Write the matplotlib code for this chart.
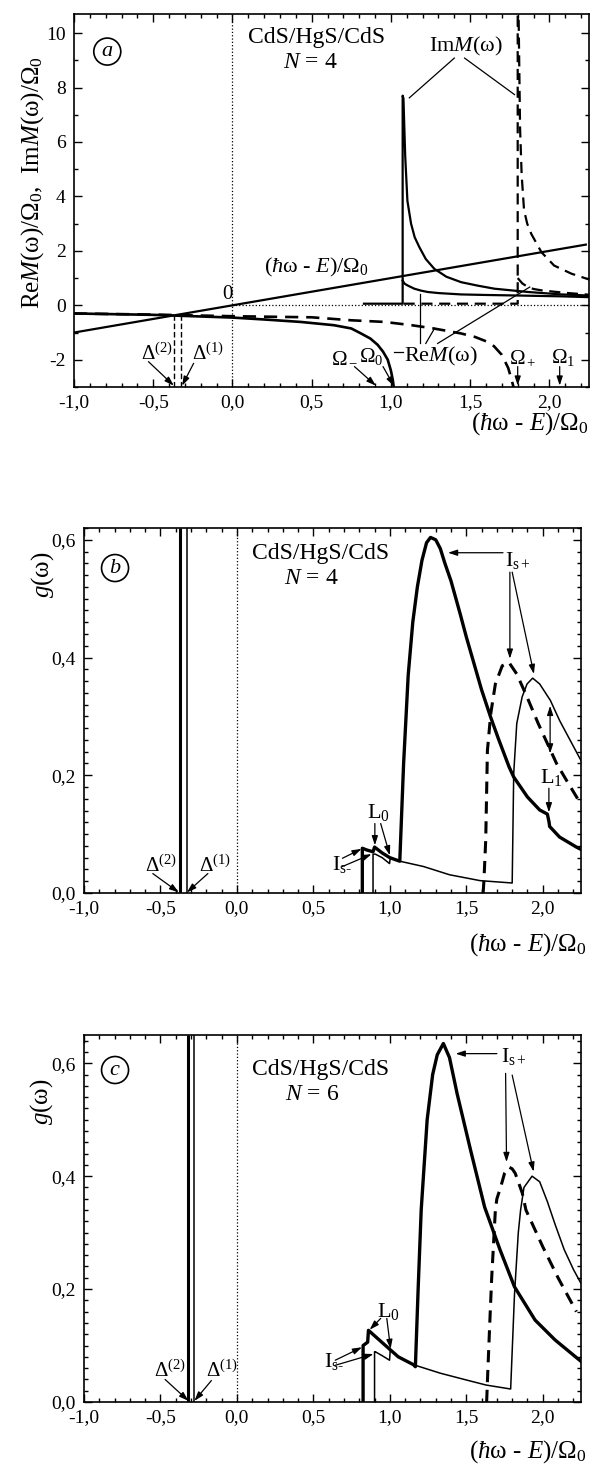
import matplotlib
matplotlib.use('Agg')
import matplotlib.pyplot as plt
from matplotlib.ticker import MultipleLocator, FuncFormatter

plt.rcParams['font.family'] = ['Liberation Serif', 'DejaVu Serif']
plt.rcParams['mathtext.fontset'] = 'custom'
plt.rcParams['mathtext.rm'] = 'Liberation Serif'
plt.rcParams['mathtext.it'] = 'Liberation Serif:italic'
plt.rcParams['mathtext.bf'] = 'Liberation Serif:bold'

# ------------------------------------------------------------------ data
# panel (a): N = 4
line_x = [-1.0, 2.23]
line_y = [-1.0, 2.23]

rem_solid_left_x = [-1.0, -0.5, 0.0, 0.2, 0.43, 0.64, 0.75, 0.81, 0.87, 0.916, 0.95, 0.98, 1.0, 1.012, 1.02]
rem_solid_left_y = [-0.30, -0.35, -0.45, -0.52, -0.61, -0.73, -0.85, -1.03, -1.22, -1.45, -1.7, -2.0, -2.4, -2.75, -3.1]

rem_dash_left_x = [-1.0, -0.5, 0.0, 0.5, 0.75, 0.96, 1.13, 1.27, 1.44, 1.53, 1.6, 1.65, 1.70, 1.74, 1.76, 1.778]
rem_dash_left_y = [-0.30, -0.34, -0.40, -0.44, -0.55, -0.61, -0.73, -0.85, -1.03, -1.16, -1.32, -1.5, -1.82, -2.3, -2.7, -3.1]

imm_solid_x = [0.83, 1.074, 1.074, 1.079, 1.09, 1.104, 1.127, 1.15, 1.18, 1.22, 1.274, 1.35, 1.443, 1.55, 1.654, 1.865, 2.076, 2.25]
imm_solid_y = [0.06, 0.06, 7.7, 7.6, 5.5, 3.84, 3.0, 2.5, 2.13, 1.7, 1.34, 1.05, 0.85, 0.72, 0.61, 0.49, 0.40, 0.36]

rem_solid_right_x = [1.074, 1.085, 1.105, 1.148, 1.19, 1.232, 1.3, 1.443, 1.6, 1.80, 2.076, 2.25]
rem_solid_right_y = [0.91, 0.80, 0.73, 0.61, 0.54, 0.49, 0.45, 0.40, 0.38, 0.36, 0.33, 0.30]

imm_dash_x = [1.08, 1.80, 1.80, 1.805, 1.815, 1.825, 1.84, 1.86, 1.886, 1.95, 2.03, 2.14, 2.25]
imm_dash_y = [0.06, 0.06, 11.0, 11.0, 6.5, 4.8, 3.5, 3.0, 2.62, 1.95, 1.46, 1.16, 0.95]

rem_dash_right_x = [1.80, 1.83, 1.865, 1.9, 1.95, 2.03, 2.12, 2.25]
rem_dash_right_y = [1.0, 0.8, 0.67, 0.60, 0.55, 0.50, 0.45, 0.39]

delta_a = [-0.37, -0.325]          # Delta(2), Delta(1) for N = 4

# panel (b): g(omega), N = 4
gb_thick_x = [0.82, 0.82, 0.85, 0.89, 0.90, 0.95, 1.0, 1.065, 1.09, 1.12, 1.15, 1.18, 1.21, 1.24, 1.266,
              1.30, 1.33, 1.36, 1.40, 1.46, 1.50, 1.55, 1.60, 1.66, 1.71, 1.78, 1.81, 1.90, 1.98,
              2.03, 2.04, 2.045, 2.11, 2.22, 2.25]
gb_thick_y = [0.0, 0.076, 0.073, 0.070, 0.078, 0.068, 0.060, 0.054, 0.22, 0.37, 0.46, 0.52, 0.565, 0.595, 0.604,
              0.600, 0.585, 0.56, 0.53, 0.474, 0.435, 0.39, 0.345, 0.298, 0.262, 0.214, 0.197, 0.163, 0.141,
              0.134, 0.122, 0.113, 0.095, 0.078, 0.074]

gb_thin_x = [0.89, 0.89, 0.905, 0.95, 0.998, 1.003, 1.065, 1.22, 1.39, 1.59, 1.80, 1.81, 1.83, 1.865,
             1.897, 1.934, 1.98, 2.05, 2.11, 2.18, 2.25]
gb_thin_y = [0.0, 0.066, 0.066, 0.060, 0.050, 0.060, 0.054, 0.045, 0.031, 0.021, 0.017, 0.203, 0.288, 0.333,
             0.355, 0.365, 0.355, 0.327, 0.293, 0.259, 0.225]

gb_dash_x = [1.61, 1.615, 1.627, 1.638, 1.66, 1.69, 1.735, 1.778, 1.83, 1.897, 1.97, 2.03, 2.09, 2.156, 2.24]
gb_dash_y = [0.0, 0.02, 0.09, 0.242, 0.305, 0.355, 0.386, 0.392, 0.372, 0.333, 0.288, 0.254, 0.22, 0.191, 0.155]

delta_b = [-0.37, -0.325]

# panel (c): g(omega), N = 6
gc_thick_x = [0.825, 0.825, 0.855, 0.86, 0.955, 1.055, 1.155, 1.167, 1.185, 1.205, 1.244, 1.28, 1.31, 1.35,
              1.39, 1.44, 1.528, 1.62, 1.72, 1.815, 1.95, 2.08, 2.25]
gc_thick_y = [0.0, 0.10, 0.106, 0.127, 0.104, 0.080, 0.066, 0.0625, 0.20, 0.34, 0.50, 0.58, 0.615, 0.635,
              0.61, 0.546, 0.446, 0.345, 0.27, 0.204, 0.145, 0.11, 0.072]

gc_thin_x = [0.90, 0.90, 0.905, 0.95, 0.998, 1.003, 1.055, 1.155, 1.33, 1.50, 1.63, 1.79, 1.815, 1.84,
             1.855, 1.877, 1.93, 1.98, 2.03, 2.08, 2.14, 2.20, 2.25]
gc_thin_y = [0.0, 0.089, 0.089, 0.082, 0.074, 0.093, 0.080, 0.066, 0.051, 0.039, 0.030, 0.023, 0.19, 0.30,
             0.34, 0.38, 0.40, 0.39, 0.355, 0.315, 0.27, 0.235, 0.21]

gc_dash_x = [1.633, 1.64, 1.655, 1.666, 1.69, 1.70, 1.724, 1.75, 1.779, 1.80, 1.82, 1.866, 1.89, 2.0, 2.10, 2.22]
gc_dash_y = [0.0, 0.05, 0.15, 0.22, 0.34, 0.36, 0.38, 0.405, 0.416, 0.413, 0.405, 0.37, 0.34, 0.275, 0.22, 0.16]

delta_c = [-0.317, -0.278]

x_ticks_major = 0.5
x_ticks_minor = 0.1

# ------------------------------------------------------------------ figure
W, H = 601, 1468
fig = plt.figure(figsize=(W / 100, H / 100), dpi=100)


def ax_rect(l, t, r, b):
    return [l / W, 1 - b / H, (r - l) / W, (b - t) / H]


def fx(px):
    return px / W


def fy(py):
    return 1 - py / H


def comma(v, pos):
    s = f"{v:.1f}".replace('.', ',')
    if s == '-0,0':
        s = '0,0'
    return s


def style_axes(ax, ymaj, ymin, yfmt):
    ax.set_xlim(-1.0, 2.25)
    ax.xaxis.set_major_locator(MultipleLocator(x_ticks_major))
    ax.xaxis.set_minor_locator(MultipleLocator(x_ticks_minor))
    ax.yaxis.set_major_locator(MultipleLocator(ymaj))
    ax.yaxis.set_minor_locator(MultipleLocator(ymin))
    ax.xaxis.set_major_formatter(FuncFormatter(comma))
    ax.yaxis.set_major_formatter(FuncFormatter(yfmt))
    ax.tick_params(which='both', direction='in', top=True, right=True, width=1.0,
                   labelsize=14)
    ax.tick_params(which='major', length=6)
    ax.tick_params(which='minor', length=3)
    ax.tick_params(axis='y', pad=6)
    ax.tick_params(axis='x', pad=5)
    for s in ax.spines.values():
        s.set_linewidth(1.2)


def arrow(ax, frm, to, style='-|>'):
    ax.annotate('', xy=to, xytext=frm,
                arrowprops=dict(arrowstyle=style + ',head_length=0.55,head_width=0.18',
                                lw=0.9, color='k', shrinkA=0, shrinkB=0, mutation_scale=10))


def leader(ax, p0, p1):
    ax.plot([p0[0], p1[0]], [p0[1], p1[1]], color='k', lw=0.9)


circ = dict(boxstyle='circle,pad=0.18', fc='none', ec='k', lw=1.2)

# ---------------------------------------------------------- panel a
axa = fig.add_axes(ax_rect(74, 14, 589, 387))
style_axes(axa, 2, 1, lambda v, p: f"{int(round(v))}")
axa.set_ylim(-3, 10.7)

axa.axvline(0, color='k', ls=':', lw=0.9)
axa.hlines(0, 0, 2.25, colors='k', linestyles=':', lw=0.9)
axa.vlines(delta_a, -3, [-0.37, -0.36], colors='k', linestyles=(0, (4, 2)), lw=1.0)

axa.plot(line_x, line_y, color='k', lw=1.6)
axa.plot(rem_solid_left_x, rem_solid_left_y, color='k', lw=1.9)
axa.plot(rem_dash_left_x, rem_dash_left_y, color='k', lw=1.9, ls=(0, (5, 3)))
axa.plot(imm_solid_x, imm_solid_y, color='k', lw=1.6)
axa.plot(rem_solid_right_x, rem_solid_right_y, color='k', lw=1.6)
axa.plot(imm_dash_x, imm_dash_y, color='k', lw=1.6, ls=(0, (5, 3)))
axa.plot(rem_dash_right_x, rem_dash_right_y, color='k', lw=1.6, ls=(0, (5, 3)))

axa.text(-0.79, 9.32, r'$a$', fontsize=16, ha='center', va='center', bbox=circ)
axa.text(0.53, 9.63, 'CdS/HgS/CdS', fontsize=17, ha='center', va='baseline')
axa.text(0.49, 8.71, r'$N$ = 4', fontsize=17, ha='center', va='baseline')
axa.text(1.475, 9.32, r'Im$M$(ω)', fontsize=16, ha='center', va='baseline')
leader(axa, (1.40, 9.08), (1.116, 7.62))
leader(axa, (1.465, 9.08), (1.78, 7.74))
axa.text(0.196, 1.2, r'($\hbar$ω - $E$)/Ω$_0$', fontsize=16, ha='left', va='baseline')
axa.text(-0.032, 0.4, '0', fontsize=15, ha='center', va='center')

axa.text(-0.58, -2.0, r'Δ$^{(2)}$', fontsize=15, ha='left', va='baseline')
axa.text(-0.255, -2.0, r'Δ$^{(1)}$', fontsize=15, ha='left', va='baseline')
arrow(axa, (-0.53, -2.07), (-0.37, -2.95))
arrow(axa, (-0.245, -2.13), (-0.318, -2.95))

axa.text(0.62, -2.08, r'Ω$_-$', fontsize=15, ha='left', va='baseline')
axa.text(0.80, -2.08, r'Ω$_0$', fontsize=15, ha='left', va='baseline')
arrow(axa, (0.77, -2.25), (0.905, -2.95))
arrow(axa, (0.95, -2.25), (1.02, -2.97))
axa.text(1.745, -2.13, r'Ω$_+$', fontsize=15, ha='left', va='baseline')
axa.text(2.01, -2.13, r'Ω$_1$', fontsize=15, ha='left', va='baseline')
arrow(axa, (1.80, -2.25), (1.80, -2.95))
arrow(axa, (2.065, -2.25), (2.065, -2.95))

axa.text(1.08, -2.07, r'Re$M$(ω)', fontsize=16, ha='left', va='baseline')
leader(axa, (1.02, -1.72), (1.075, -1.72))
leader(axa, (1.185, -1.4), (1.185, 0.43))
leader(axa, (1.22, -1.4), (1.275, -0.85))
leader(axa, (1.295, -1.4), (1.876, 0.67))

fig.text(fx(33), fy(182), r'Re$M$(ω)/Ω$_0$,  Im$M$(ω)/Ω$_0$', fontsize=18,
         rotation=90, ha='center', va='center')
fig.text(fx(588), fy(424), r'($\hbar$ω - $E$)/Ω$_0$', fontsize=18, ha='right', va='center')

# ---------------------------------------------------------- panel b
axb = fig.add_axes(ax_rect(84, 528, 581, 893))
style_axes(axb, 0.2, 0.02, comma)
axb.set_ylim(0, 0.62)
axb.axvline(0, color='k', ls=':', lw=0.9)
axb.vlines(delta_b[0], 0, 0.62, colors='k', lw=2.2)
axb.vlines(delta_b[1], 0, 0.62, colors='k', lw=1.1)
axb.plot(gb_thin_x, gb_thin_y, color='k', lw=1.1)
axb.plot(gb_dash_x, gb_dash_y, color='k', lw=2.2, ls=(0, (4, 2.5)))
axb.plot(gb_thick_x, gb_thick_y, color='k', lw=2.4)

axb.text(-0.797, 0.552, r'$b$', fontsize=16, ha='center', va='center', bbox=circ)
axb.text(0.098, 0.568, 'CdS/HgS/CdS', fontsize=17, ha='left', va='baseline')
axb.text(0.305, 0.525, r'$N$ = 4', fontsize=17, ha='left', va='baseline')

axb.text(1.75, 0.556, r'I$_{\mathrm{s+}}$', fontsize=16, ha='left', va='baseline')
arrow(axb, (1.74, 0.578), (1.38, 0.578))
arrow(axb, (1.785, 0.545), (1.785, 0.398))
arrow(axb, (1.80, 0.545), (1.942, 0.372))

axb.text(0.85, 0.127, r'L$_0$', fontsize=16, ha='left', va='baseline')
arrow(axb, (0.902, 0.118), (0.902, 0.081))
arrow(axb, (0.94, 0.118), (1.0, 0.064))
axb.text(0.62, 0.039, r'I$_{\mathrm{s}\text{-}}$', fontsize=16, ha='left', va='baseline')
arrow(axb, (0.69, 0.059), (0.815, 0.075))
arrow(axb, (0.69, 0.045), (0.88, 0.066))

axb.text(-0.60, 0.036, r'Δ$^{(2)}$', fontsize=15, ha='left', va='baseline')
axb.text(-0.245, 0.036, r'Δ$^{(1)}$', fontsize=15, ha='left', va='baseline')
arrow(axb, (-0.55, 0.033), (-0.38, 0.001))
arrow(axb, (-0.19, 0.033), (-0.327, 0.001))

axb.text(1.985, 0.186, r'L$_1$', fontsize=16, ha='left', va='baseline')
arrow(axb, (2.048, 0.237), (2.048, 0.318), style='<|-|>')
arrow(axb, (2.04, 0.178), (2.04, 0.137))

fig.text(fx(43), fy(575), r'$g$(ω)', fontsize=18, rotation=90, ha='center', va='center')
fig.text(fx(586), fy(945), r'($\hbar$ω - $E$)/Ω$_0$', fontsize=18, ha='right', va='center')

# ---------------------------------------------------------- panel c
axc = fig.add_axes(ax_rect(84, 1035, 581, 1402))
style_axes(axc, 0.2, 0.02, comma)
axc.set_ylim(0, 0.65)
axc.axvline(0, color='k', ls=':', lw=0.9)
axc.vlines(delta_c[0], 0, 0.65, colors='k', lw=2.2)
axc.vlines(delta_c[1], 0, 0.65, colors='k', lw=1.1)
axc.plot(gc_thin_x, gc_thin_y, color='k', lw=1.1)
axc.plot(gc_dash_x, gc_dash_y, color='k', lw=2.2, ls=(0, (4, 2.5)))
axc.plot(gc_thick_x, gc_thick_y, color='k', lw=2.4)

axc.text(-0.797, 0.588, r'$c$', fontsize=16, ha='center', va='center', bbox=circ)
axc.text(0.098, 0.579, 'CdS/HgS/CdS', fontsize=17, ha='left', va='baseline')
axc.text(0.316, 0.534, r'$N$ = 6', fontsize=17, ha='left', va='baseline')

axc.text(1.725, 0.602, r'I$_{\mathrm{s+}}$', fontsize=16, ha='left', va='baseline')
arrow(axc, (1.70, 0.617), (1.43, 0.617))
arrow(axc, (1.757, 0.582), (1.763, 0.425))
arrow(axc, (1.80, 0.579), (1.94, 0.408))

axc.text(0.918, 0.151, r'L$_0$', fontsize=16, ha='left', va='baseline')
arrow(axc, (0.94, 0.148), (0.868, 0.128))
arrow(axc, (0.98, 0.148), (1.005, 0.094))
axc.text(0.57, 0.0625, r'I$_{\mathrm{s}\text{-}}$', fontsize=16, ha='left', va='baseline')
arrow(axc, (0.643, 0.074), (0.818, 0.097))
arrow(axc, (0.643, 0.065), (0.893, 0.085))

axc.text(-0.54, 0.045, r'Δ$^{(2)}$', fontsize=15, ha='left', va='baseline')
axc.text(-0.205, 0.045, r'Δ$^{(1)}$', fontsize=15, ha='left', va='baseline')
arrow(axc, (-0.47, 0.040), (-0.317, 0.002))
arrow(axc, (-0.167, 0.038), (-0.278, 0.002))

fig.text(fx(42), fy(1102), r'$g$(ω)', fontsize=18, rotation=90, ha='center', va='center')
fig.text(fx(586), fy(1452), r'($\hbar$ω - $E$)/Ω$_0$', fontsize=18, ha='right', va='center')

fig.savefig('out.png', dpi=100)
